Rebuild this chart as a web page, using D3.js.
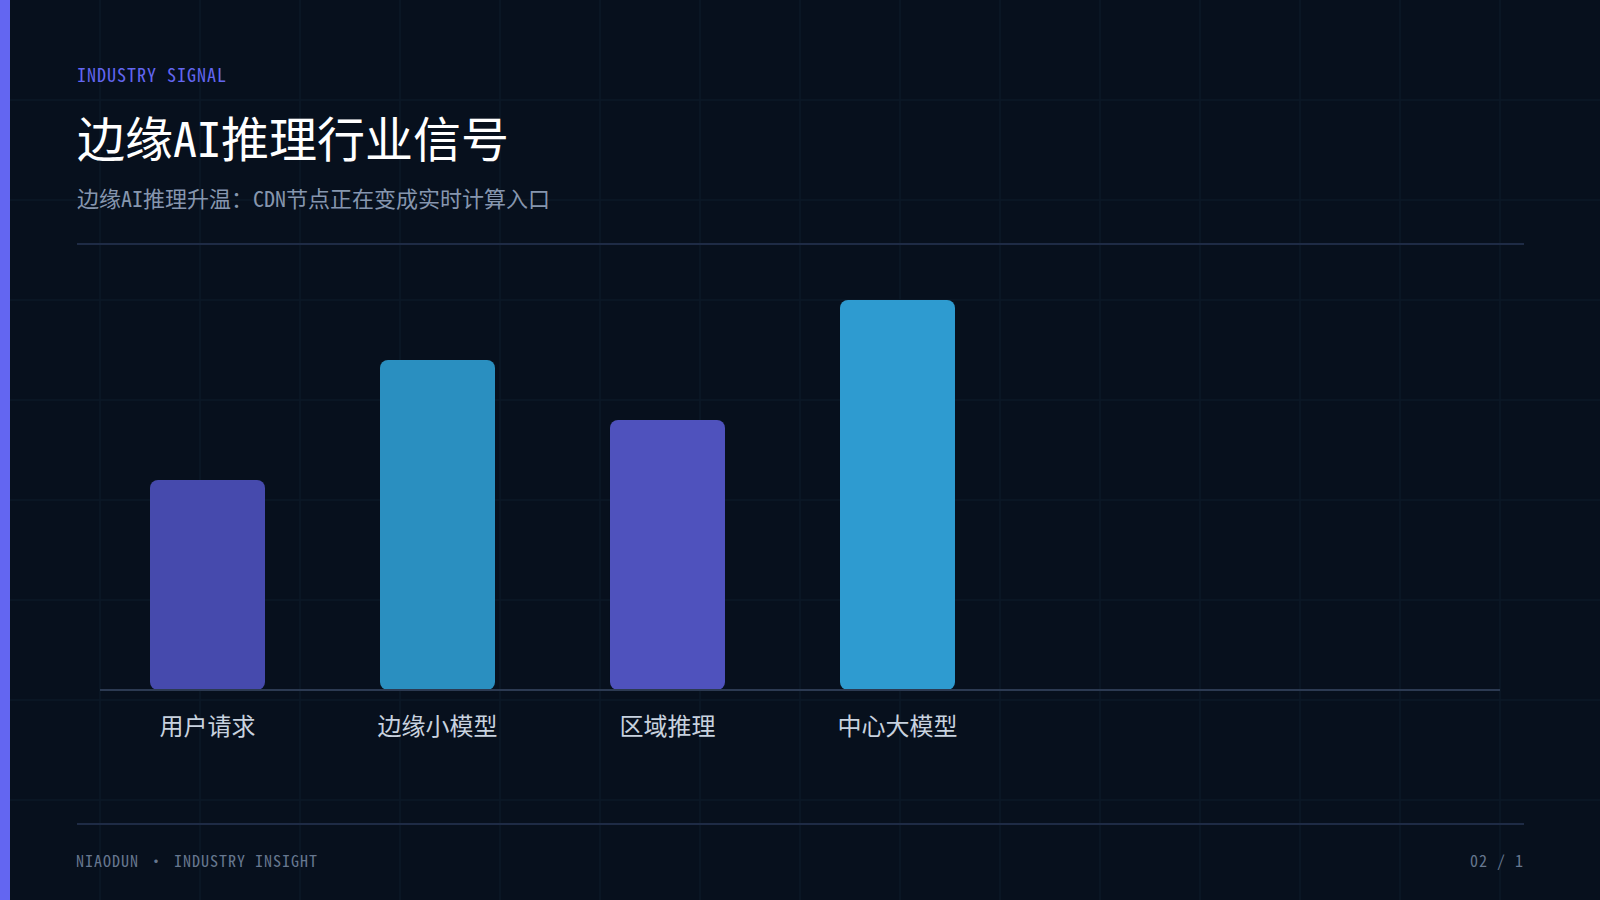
<!DOCTYPE html>
<html>
<head>
<meta charset="utf-8">
<script src="https://cdn.jsdelivr.net/npm/d3@7"></script>
<style>
  html, body { margin: 0; padding: 0; background: #07101d; }
  svg { display: block; }
  .mono { font-family: "Noto Sans Mono CJK SC", "Noto Sans CJK SC", monospace; }
</style>
</head>
<body>
<div id="chart"></div>
<script>
// chart data
const categories = ['用户请求', '边缘小模型', '区域推理', '中心大模型'];
const values = [35, 55, 45, 65];
const barColors = ['#464aad', '#2a8fc0', '#4f52bd', '#2e9bd0'];

const eyebrow = 'INDUSTRY SIGNAL';
const title = '边缘AI推理行业信号';
const subtitle = '边缘AI推理升温：CDN节点正在变成实时计算入口';
const footerLeft = 'NIAODUN · INDUSTRY INSIGHT';
const footerRight = '02 / 1';

const width = 1600;
const height = 900;
const left = 77;
const right = 1524;
const baseY = 690;

const svg = d3.select('#chart')
  .append('svg')
  .attr('width', width)
  .attr('height', height)
  .attr('class', 'mono');

svg.append('rect')
  .attr('width', width)
  .attr('height', height)
  .attr('fill', '#07101d');

// background grid, every 100px
const grid = svg.append('g').attr('stroke', '#0d1827').attr('stroke-width', 1.5);
grid.selectAll('line.v')
  .data(d3.range(100, width, 100))
  .join('line')
  .attr('class', 'v')
  .attr('x1', d => d).attr('x2', d => d)
  .attr('y1', 0).attr('y2', height);
grid.selectAll('line.h')
  .data(d3.range(100, height, 100))
  .join('line')
  .attr('class', 'h')
  .attr('x1', 0).attr('x2', width)
  .attr('y1', d => d).attr('y2', d => d);

// left accent bar
svg.append('rect')
  .attr('x', 0).attr('y', 0)
  .attr('width', 10).attr('height', height)
  .attr('fill', '#6366f1');

// header
svg.append('text')
  .attr('x', left).attr('y', 82)
  .attr('fill', '#6366f1')
  .attr('font-size', 18)
  .attr('letter-spacing', 1)
  .text(eyebrow);

svg.append('text')
  .attr('x', left).attr('y', 157)
  .attr('fill', '#ffffff')
  .attr('font-size', 48)
  .text(title);

svg.append('text')
  .attr('x', left).attr('y', 207)
  .attr('fill', '#8696ae')
  .attr('font-size', 22)
  .text(subtitle);

svg.append('line')
  .attr('x1', left).attr('x2', right)
  .attr('y1', 244).attr('y2', 244)
  .attr('stroke', '#1e2b45')
  .attr('stroke-width', 2);

// scales
const x = d3.scaleBand()
  .domain(categories)
  .range([100, 1005])
  .paddingInner(0.5)
  .paddingOuter(0.2174);

const y = d3.scaleLinear()
  .domain([0, d3.max(values)])
  .range([baseY, 300]);

const rows = categories.map((c, i) => ({ name: c, value: values[i], color: barColors[i] }));

// bars
svg.append('g')
  .selectAll('rect')
  .data(rows)
  .join('rect')
  .attr('x', d => x(d.name))
  .attr('y', d => y(d.value))
  .attr('width', x.bandwidth())
  .attr('height', d => baseY - y(d.value))
  .attr('rx', 8)
  .attr('fill', d => d.color);

// baseline
svg.append('line')
  .attr('x1', 100).attr('x2', 1500)
  .attr('y1', baseY).attr('y2', baseY)
  .attr('stroke', '#2c3a52')
  .attr('stroke-width', 2);

// category labels
const xAxis = d3.axisBottom(x).tickSize(0).tickPadding(0);
const axisG = svg.append('g')
  .attr('transform', 'translate(0,' + baseY + ')')
  .call(xAxis);
axisG.select('.domain').remove();
axisG.selectAll('text')
  .attr('y', 45)
  .attr('dy', 0)
  .attr('fill', '#c8d2df')
  .attr('font-size', 24)
  .attr('font-family', '"Noto Sans Mono CJK SC", "Noto Sans CJK SC", monospace');

// footer
svg.append('line')
  .attr('x1', left).attr('x2', right)
  .attr('y1', 824).attr('y2', 824)
  .attr('stroke', '#1e2b45')
  .attr('stroke-width', 2);

svg.append('text')
  .attr('x', left - 1).attr('y', 867)
  .attr('fill', '#66778f')
  .attr('font-size', 16)
  .attr('letter-spacing', 1)
  .text(footerLeft);

svg.append('text')
  .attr('x', right).attr('y', 867)
  .attr('text-anchor', 'end')
  .attr('fill', '#66778f')
  .attr('font-size', 16)
  .attr('letter-spacing', 1)
  .text(footerRight);
</script>
</body>
</html>
